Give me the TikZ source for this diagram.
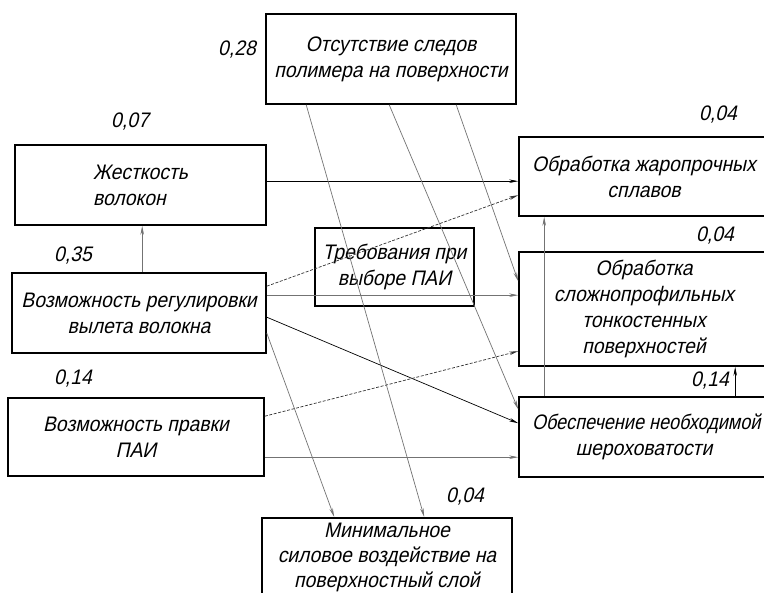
\documentclass[tikz,border=0pt]{standalone}
\usepackage{fontspec}
\setmainfont{Liberation Sans}
\newfontfamily\gost{Liberation Sans}[FakeSlant=0.22,FakeStretch=0.92]
\newfontfamily\gostn{Liberation Sans}[FakeSlant=0.22,FakeStretch=0.86]
\usetikzlibrary{arrows.meta,calc}
\begin{document}
\begin{tikzpicture}[x=1pt,y=-1pt,
  box/.style={draw,line width=1.6pt,inner sep=0pt,align=center,
    font=\gost\fontsize{21}{26}\selectfont},
  lbl/.style={inner sep=0pt,font=\gost\fontsize{21}{22}\selectfont},
  conn/.style={line width=0.7pt,-{Stealth[length=9pt,width=3.5pt]}},
  blk/.style={conn,black},
  gry/.style={conn,black!55},
  dsh/.style={conn,black!80,dash pattern=on 3pt off 1.6pt}]
\clip (0,0) rectangle (764,593);
\fill[white] (0,0) rectangle (764,593);
% boxes
\node[box,minimum width=250pt,minimum height=90pt] (top) at (391,59) {Отсутствие следов\\полимера на поверхности};
\node[box,minimum width=251pt,minimum height=80pt,align=left] (zhest) at (140.5,185) {Жесткость\\волокон};
\node[box,minimum width=254pt,minimum height=80pt] (reg) at (139,313) {Возможность регулировки\\вылета волокна};
\node[box,minimum width=256pt,minimum height=78pt] (prav) at (136,437) {Возможность правки\\ПАИ};
\node[box,minimum width=159pt,minimum height=78pt] (treb) at (394.5,267) {Требования при\\выборе ПАИ};
\node[box,minimum width=250pt,minimum height=79pt] (zhar) at (644,176.5) {\makebox[224pt][l]{Обработка жаропрочных}\\сплавов};
\node[box,minimum width=250pt,minimum height=114pt] (slozh) at (644,309) {Обработка\\сложнопрофильных\\тонкостенных\\поверхностей};
\node[box,minimum width=250pt,minimum height=80pt] (sher) at (644,437) {\makebox[224pt][l]{\gostn Обеспечение необходимой}\\шероховатости};
\node[box,minimum width=250pt,minimum height=80pt,anchor=north,font=\gost\fontsize{21}{25}\selectfont] (min) at (387,517) {Минимальное\\силовое воздействие на\\поверхностный слой};
% weights
\node[lbl] (w1) at (237,50) {0,28};
\node[lbl] (w2) at (130,122) {0,07};
\node[lbl] (w3) at (73,256) {0,35};
\node[lbl] (w4) at (73,379) {0,14};
\node[lbl] (w5) at (718,115) {0,04};
\node[lbl] (w6) at (715,236) {0,04};
\node[lbl] (w7) at (710,381) {0,14};
\node[lbl] (w8) at (465,497) {0,04};
% connectors
\draw[blk] ($(zhest.north east)+(0,37)$) -- ($(zhar.north west)+(0,45)$);
\draw[gry] ($(reg.north west)+(131,0)$) -- ($(zhest.south west)+(128,0)$);
\draw[dsh] ($(reg.north east)+(0,14)$) -- ($(zhar.north west)+(0,59)$);
\draw[gry] ($(reg.north east)+(0,23)$) -- ($(slozh.north west)+(0,44)$);
\draw[blk] ($(reg.north east)+(0,45)$) -- ($(sher.north west)+(0,27)$);
\draw[gry] ($(reg.north east)+(0,61)$) -- ($(min.north west)+(73,0)$);
\draw[dsh] ($(prav.north east)+(0,19)$) -- ($(slozh.north west)+(0,100)$);
\draw[gry] ($(prav.north east)+(0,60)$) -- ($(sher.north west)+(0,61)$);
\draw[gry] ($(top.south west)+(41,0)$) -- ($(min.north west)+(163,0)$);
\draw[gry] ($(top.south west)+(124,0)$) -- ($(sher.north west)+(0,13)$);
\draw[gry] ($(top.south west)+(191,0)$) -- ($(slozh.north west)+(0,30)$);
\draw[gry] ($(sher.north west)+(26,0)$) -- ($(zhar.south west)+(26,0)$);
\draw[blk] ($(sher.north west)+(217,0)$) -- ($(slozh.south west)+(217,0)$);
\end{tikzpicture}
\end{document}
